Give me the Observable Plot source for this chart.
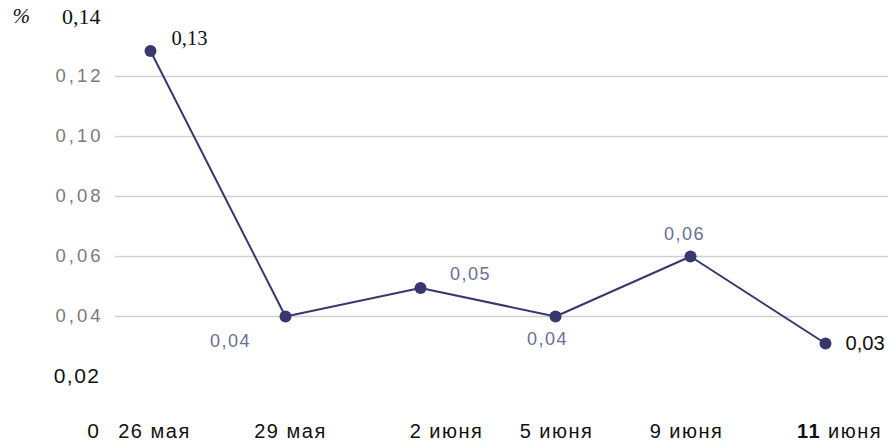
<!DOCTYPE html>
<html>
<head>
<meta charset="utf-8">
<script src="https://cdn.jsdelivr.net/npm/d3@7"></script>
<script src="https://cdn.jsdelivr.net/npm/@observablehq/plot@0.6"></script>
<style>
  html, body { margin: 0; padding: 0; background: #fff; }
  svg { display: block; }
</style>
</head>
<body>
<div id="chart"></div>
<script>
// ---- data ----
const dates = ["26 мая", "29 мая", "2 июня", "5 июня", "9 июня", "11 июня"];
const values = [0.1285, 0.040, 0.0495, 0.040, 0.060, 0.031];
const valueLabels = ["0,13", "0,04", "0,05", "0,04", "0,06", "0,03"];
const yTicks = [0, 0.02, 0.04, 0.06, 0.08, 0.10, 0.12, 0.14];
const yTickLabels = ["0", "0,02", "0,04", "0,06", "0,08", "0,10", "0,12", "0,14"];
const gridTicks = [0.04, 0.06, 0.08, 0.10, 0.12];
const unitLabel = "%";

// ---- styles (not data) ----
const lineColor = "#38386f";
const sans = "'Liberation Sans', Arial, sans-serif";
const serif = "'Liberation Serif', 'Times New Roman', serif";
const xLabelDx = [4, 5, 26, 1, -4, 14];
const labelStyle = [
  {dx: 21, dy: -13, anchor: "start", fill: "#111", font: serif, size: 20.5},
  {dx: -55, dy: 25, anchor: "middle", fill: "#6a6e95", font: sans, size: 18},
  {dx: 50, dy: -14, anchor: "middle", fill: "#6a6e95", font: sans, size: 18},
  {dx: -8, dy: 23, anchor: "middle", fill: "#6a6e95", font: sans, size: 18},
  {dx: -6, dy: -22, anchor: "middle", fill: "#6a6e95", font: sans, size: 18},
  {dx: 20, dy: 0, anchor: "start", fill: "#111", font: sans, size: 20.2}
];
function yLabelStyle(v) {
  if (v >= 0.14) return {fill: "#111", font: serif, size: 22, dx: -15, dy: 0};
  if (v >= 0.04) return {fill: "#7a7a7a", font: sans, size: 18.5, dx: -12, dy: 0};
  if (v > 0) return {fill: "#111", font: sans, size: 21, dx: -15, dy: 0};
  return {fill: "#111", font: sans, size: 21, dx: -15, dy: -5};
}
// letter spacing keyed by font size
const spacingBySize = {"18.5": 3, "18": 1.5, "20": 1.5, "21": 1.5};

const points = dates.map((d, i) => ({date: d, value: values[i], label: valueLabels[i]}));
const ticks = yTicks.map((v, i) => ({v, label: yTickLabels[i]}));

const marks = [];
marks.push(Plot.ruleY(gridTicks, {stroke: "#cfcfcf", strokeWidth: 1.5}));
// y tick labels
ticks.forEach(t => {
  const s = yLabelStyle(t.v);
  marks.push(Plot.text([t], {
    y: "v", text: "label", frameAnchor: "left", dx: s.dx, dy: s.dy, textAnchor: "end",
    fill: s.fill, fontFamily: s.font, fontSize: s.size
  }));
});
// unit label
marks.push(Plot.text([{v: 0.14, t: unitLabel}], {
  y: "v", text: "t", frameAnchor: "left", dx: -103, textAnchor: "start",
  fill: "#111", fontFamily: serif, fontStyle: "italic", fontSize: 21
}));
// x tick labels at y = 0
dates.forEach((d, i) => {
  marks.push(Plot.text([d], {
    x: v => v, y: () => 0, text: v => v, textAnchor: "middle", dy: -5,
    fill: "#111", fontFamily: sans, fontSize: 20, dx: xLabelDx[i]
  }));
});
// line and dots
marks.push(Plot.line(points, {x: "date", y: "value", stroke: lineColor, strokeWidth: 2}));
marks.push(Plot.dot(points, {x: "date", y: "value", fill: lineColor, r: 6}));
// value labels
points.forEach((p, i) => {
  const s = labelStyle[i];
  marks.push(Plot.text([p], {
    x: "date", y: "value", text: "label", dx: s.dx, dy: s.dy, textAnchor: s.anchor,
    fill: s.fill, fontFamily: s.font, fontSize: s.size
  }));
});

const chart = Plot.plot({
  width: 888,
  height: 443,
  marginLeft: 115,
  marginRight: 0,
  marginTop: 16,
  marginBottom: 7,
  insetLeft: 34,
  insetRight: 63,
  style: {overflow: "visible", background: "#fff"},
  x: {type: "point", domain: dates, padding: 0, axis: null},
  y: {domain: [0, 0.14], axis: null},
  marks
});
document.getElementById("chart").appendChild(chart);

// letter spacing
d3.select(chart).selectAll("g[font-size]").each(function() {
  const fs = this.getAttribute("font-size");
  if (spacingBySize[fs]) d3.select(this).style("letter-spacing", spacingBySize[fs] + "px");
});
// bold day number for the last date
d3.select(chart).selectAll("text").each(function() {
  const el = d3.select(this);
  if (el.text() === "11 июня") {
    el.text("");
    el.append("tspan").attr("font-weight", "bold").text("11");
    el.append("tspan").text(" июня");
  }
});
</script>
</body>
</html>
